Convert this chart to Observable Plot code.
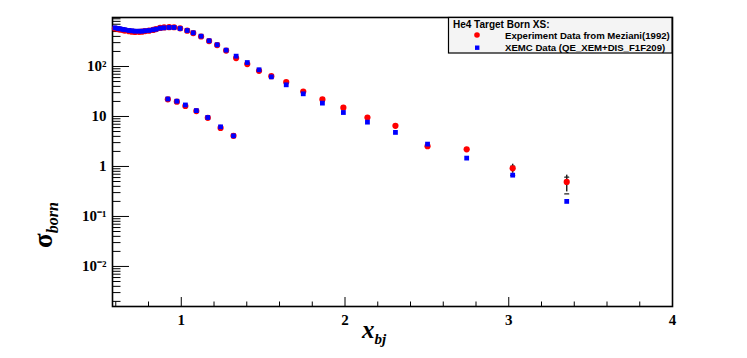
<!DOCTYPE html>
<html><head><meta charset="utf-8">
<script src="https://cdn.jsdelivr.net/npm/d3@7"></script>
<script src="https://cdn.jsdelivr.net/npm/@observablehq/plot@0.6"></script>
<style>
body{margin:0;background:#fff;}
#chart{width:747px;height:358px;}
</style></head><body><div id="chart"></div>
<script>
// ---- data ----
const xMain = [0.595,0.614,0.626,0.644,0.656,0.681,0.699,0.718,0.742,0.760,0.779,0.803,0.828,0.846,0.871,0.895,0.926,0.956,0.993,1.036,1.073,1.121,1.170,1.219,1.274,1.335,1.403,1.475,1.550,1.641,1.745,1.862,1.990,2.137,2.308,2.504,2.743,3.024,3.354];
const expMain = [575,560,548,535,522,508,498,492,494,497,510,520,540,560,590,605,612,610,580,520,465,398,322,268,208,147,112,82,64,49,31.6,21.9,15,9.5,6.5,2.55,2.2,0.92,0.49];
const xemcMain = [594,575,568,550,542,525,518,508,508,508,518,525,542,557,584,594,603,603,575,525,472,404,327,272,212,161,120,86,62,43,28.4,18.5,12.0,7.7,4.8,2.8,1.47,0.67,0.2];
const xLow = [0.918,0.973,1.025,1.092,1.162,1.240,1.319];
const expLow = [22.0,19.8,16.2,12.8,9.4,5.9,4.1];
const xemcLow = [22.4,20.2,17.0,13.1,9.55,6.2,4.1];
const errX = [3.024,3.354];
const errVal = [0.92,0.49];
const errSize = [0.19,0.18];

const xTicks = [1,2,3,4];
const xTickLabels = ["1","2","3","4"];
const xMinor = [0.6,0.8,1.2,1.4,1.6,1.8,2.2,2.4,2.6,2.8,3.2,3.4,3.6,3.8];
const yTicks = [0.01,0.1,1,10,100];
const yTickLabels = ["10\u207B\u00B2","10\u207B\u00B9","1","10","10\u00B2"];
const yMinor = [];
[0.001,0.01,0.1,1,10,100].forEach(dec => { for (let k = 2; k <= 9; k++) yMinor.push(k*dec); });

const legendHeader = "He4 Target Born XS:";
const legendLabels = ["Experiment Data from Meziani(1992)", "XEMC Data (QE_XEM+DIS_F1F209)"];

// ---- tables ----
const expPts = xMain.map((x,i)=>({x, y: expMain[i]})).concat(xLow.map((x,i)=>({x, y: expLow[i]})));
const xemcPts = xMain.map((x,i)=>({x, y: xemcMain[i]})).concat(xLow.map((x,i)=>({x, y: xemcLow[i]})));
const errPts = errX.map((x,i)=>({x, lo: errVal[i]-errSize[i], hi: errVal[i]+errSize[i]}));

const capShape = {draw(ctx){ ctx.moveTo(-2,0); ctx.lineTo(2,0); }};
const tickFont = {fontFamily: "Liberation Serif", fontWeight: "bold", fontSize: 15, fill: "black"};

const chart = Plot.plot({
  width: 747, height: 358,
  marginLeft: 112, marginRight: 75, marginTop: 17, marginBottom: 52,
  x: {domain: [0.58, 4], axis: null},
  y: {type: "log", domain: [0.00158, 955], axis: null},
  style: {background: "white", color: "black"},
  marks: [
    Plot.axisY(yMinor.filter(v => v > 0.00158 && v < 955), {tickSize: -8.5, tickFormat: () => "", label: null, stroke: "black"}),
    Plot.axisY(yTicks, {tickSize: -17, tickPadding: 23, tickFormat: d => yTickLabels[yTicks.indexOf(d)], label: null, stroke: "black", ...tickFont}),
    Plot.axisX(xMinor, {tickSize: -4.5, tickFormat: () => "", label: null, stroke: "black"}),
    Plot.axisX(xTicks, {tickSize: -9, tickPadding: 17, tickFormat: d => xTickLabels[xTicks.indexOf(d)], label: null, stroke: "black", ...tickFont}),
    Plot.frame({stroke: "black", strokeWidth: 1.6}),
    Plot.ruleX(errPts, {x: "x", y1: "lo", y2: "hi", stroke: "#222", strokeWidth: 1.5}),
    Plot.vector(errPts, {x: "x", y: "lo", length: 4, shape: capShape, stroke: "#222", strokeWidth: 1.2}),
    Plot.vector(errPts, {x: "x", y: "hi", length: 4, shape: capShape, stroke: "#222", strokeWidth: 1.2}),
    Plot.dot(expPts, {x: "x", y: "y", r: 3.1, fill: "#ff0000"}),
    Plot.dot(xemcPts, {x: "x", y: "y", r: 2.7, symbol: "square", fill: "#0000ff"})
  ]
});
document.getElementById("chart").appendChild(chart);

// ---- axis titles and legend as SVG text ----
const svg = d3.select(chart);
const xt = svg.append("text").attr("x", 362).attr("y", 338).attr("text-anchor", "start")
  .attr("font-family", "Liberation Serif").attr("font-weight", "bold").attr("font-style", "italic");
xt.append("tspan").attr("font-size", 25).text("x");
xt.append("tspan").attr("font-size", 15).attr("dy", 6).text("bj");

const yt = svg.append("text").attr("transform", "translate(52,248) rotate(-90)").attr("text-anchor", "start")
  .attr("font-family", "Liberation Serif").attr("font-weight", "bold");
yt.append("tspan").attr("font-size", 27).text("\u03C3");
yt.append("tspan").attr("font-size", 16).attr("font-style", "italic").attr("dy", 6).text("born");

const lg = svg.append("g").attr("text-anchor", "start");
lg.append("rect").attr("x", 448.5).attr("y", 17.5).attr("width", 223.5).attr("height", 35.5)
  .attr("fill", "#f4f4f4").attr("stroke", "black").attr("stroke-width", 1.2);
const lf = "Liberation Sans";
lg.append("text").attr("x", 453).attr("y", 27.5).attr("font-family", lf).attr("font-weight", "bold")
  .attr("font-size", 10).text(legendHeader);
lg.append("circle").attr("cx", 477).attr("cy", 35).attr("r", 2.8).attr("fill", "#ff0000");
lg.append("rect").attr("x", 475).attr("y", 45.5).attr("width", 4.4).attr("height", 4.4).attr("fill", "#0000ff");
lg.append("text").attr("x", 505).attr("y", 38.5).attr("font-family", lf).attr("font-weight", "bold")
  .attr("font-size", 9.6).text(legendLabels[0]);
lg.append("text").attr("x", 505).attr("y", 51).attr("font-family", lf).attr("font-weight", "bold")
  .attr("font-size", 9.6).text(legendLabels[1]);
</script></body></html>
